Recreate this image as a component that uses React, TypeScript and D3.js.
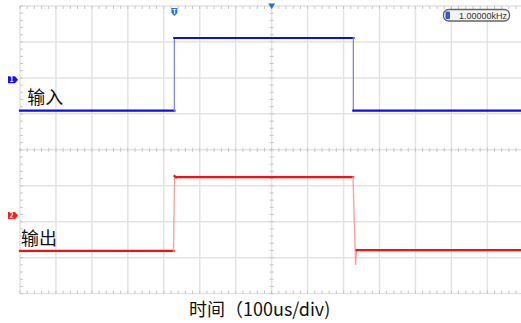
import React from "react";
import * as d3 from "d3";

// Screen geometry of the scope grid (14 x 8 divisions)
const DIVS_X = 14;
const DIVS_Y = 8;
const TIME_PER_DIV = 100; // us
const MINOR_PER_DIV = 5;

// Channel 1 (input) trace: time in us, level in divisions from screen centre
const ch1Time = [-700, -270.6, -270.6, 227.3, 227.3, 700];
const ch1Level = [1.09, 1.09, 3.11, 3.11, 1.09, 1.09];

// Channel 2 (output) trace
const ch2Time = [-700, -272.9, -270.1, -265.9, 226.4, 227.8, 233.4, 236.2, 700];
const ch2Level = [-2.81, -2.81, -0.73, -0.76, -0.76, -1.26, -3.18, -2.79, -2.79];

// Channel ground markers (divisions)
const channelMarkers = [
  { label: "1", level: 1.95, color: "#1010ff" },
  { label: "2", level: -1.83, color: "#ff1a1a" },
];

const traceLabels = [
  { text: "输入", t: -680, level: 1.27 },
  { text: "输出", t: -697, level: -2.65 },
];

const triggerTime = -270.6;
const freqText = "1.00000kHz";
const xAxisTitle = "时间（100us/div)";

export default function App() {
  const W = 521;
  const H = 323;
  const left = 20;
  const top = 6;
  const div = 35.95;
  const plotW = DIVS_X * div;
  const plotH = DIVS_Y * div;

  const x = d3
    .scaleLinear()
    .domain([(-DIVS_X / 2) * TIME_PER_DIV, (DIVS_X / 2) * TIME_PER_DIV])
    .range([left, left + plotW]);
  const y = d3
    .scaleLinear()
    .domain([-DIVS_Y / 2, DIVS_Y / 2])
    .range([top + plotH, top]);

  const line = d3
    .line<[number, number]>()
    .x((d) => x(d[0]))
    .y((d) => y(d[1]));

  const ch1 = ch1Time.map((t, i) => [t, ch1Level[i]] as [number, number]);
  const ch2 = ch2Time.map((t, i) => [t, ch2Level[i]] as [number, number]);

  const gridColor = "#e3e3e3";
  const tickColor = "#c4c4c4";

  const vLines = d3.range(0, DIVS_X + 1).map((i) => (i - DIVS_X / 2) * TIME_PER_DIV);
  const hLines = d3.range(0, DIVS_Y + 1).map((i) => i - DIVS_Y / 2);
  const minorX = d3
    .range(0, DIVS_X * MINOR_PER_DIV + 1)
    .map((i) => (i / MINOR_PER_DIV - DIVS_X / 2) * TIME_PER_DIV);
  const minorY = d3
    .range(0, DIVS_Y * MINOR_PER_DIV + 1)
    .map((i) => i / MINOR_PER_DIV - DIVS_Y / 2);

  const cx = x(0);
  const cy = y(0);
  const font = "'Noto Sans CJK SC', 'Noto Sans', sans-serif";

  // Split a trace into flat runs (drawn solid) and edges (drawn faint)
  const segments = (pts: [number, number][]) =>
    d3.pairs(pts).map(([a, b]) => ({
      a,
      b,
      steep: Math.abs(x(b[0]) - x(a[0])) < 3 && Math.abs(y(b[1]) - y(a[1])) > 4,
    }));

  return (
    <svg
      width={W}
      height={H}
      style={{ position: "absolute", left: 0, top: 0, background: "#fff" }}
    >
      {/* grid */}
      <g>
        {vLines.map((t, i) => (
          <line key={"v" + i} x1={x(t)} x2={x(t)} y1={top} y2={top + plotH} stroke={gridColor} strokeWidth={1.5} />
        ))}
        {hLines.map((v, i) => (
          <line key={"h" + i} x1={left} x2={left + plotW} y1={y(v)} y2={y(v)} stroke={gridColor} strokeWidth={1.5} />
        ))}
      </g>
      {/* minor ticks on centre lines and frame */}
      <g stroke={tickColor} strokeWidth={1}>
        {minorX.map((t, i) => (
          <g key={"mx" + i}>
            <line x1={x(t)} x2={x(t)} y1={cy - 2} y2={cy + 2} />
            <line x1={x(t)} x2={x(t)} y1={top} y2={top + 3} />
            <line x1={x(t)} x2={x(t)} y1={top + plotH - 3} y2={top + plotH} />
          </g>
        ))}
        {minorY.map((v, i) => (
          <g key={"my" + i}>
            <line x1={cx - 2} x2={cx + 2} y1={y(v)} y2={y(v)} />
            <line x1={left} x2={left + 3} y1={y(v)} y2={y(v)} />
          </g>
        ))}
      </g>

      {/* traces */}
      {[
        { pts: ch1, color: "#0a0aff", faint: "#8080ff" },
        { pts: ch2, color: "#ff0d0d", faint: "#ff9a9a" },
      ].map((tr, k) => (
        <g key={"tr" + k} fill="none" strokeLinecap="square">
          {segments(tr.pts).map((s, i) => (
            <path
              key={i}
              d={line([s.a, s.b]) || ""}
              stroke={s.steep ? tr.faint : tr.color}
              strokeWidth={s.steep ? 1.3 : 2.2}
            />
          ))}
        </g>
      ))}

      {/* channel markers */}
      {channelMarkers.map((m) => {
        const my = y(m.level);
        return (
          <g key={m.label}>
            <path
              d={`M8,${my - 3.5} H15 L18,${my} L15,${my + 3.5} H8 Z`}
              fill={m.color}
            />
            <text x={11.5} y={my + 2.6} fontSize={7} fill="#fff" fontFamily={font} fontWeight="bold" textAnchor="middle">
              {m.label}
            </text>
          </g>
        );
      })}

      {/* trigger position marker */}
      <g>
        <path
          d={`M${x(triggerTime) - 3},8 H${x(triggerTime) + 3} V13 L${x(triggerTime)},16 L${x(triggerTime) - 3},13 Z`}
          fill="#2a6fe0"
        />
        <text x={x(triggerTime)} y={13.5} fontSize={6} fill="#fff" fontFamily={font} fontWeight="bold" textAnchor="middle">
          T
        </text>
      </g>
      {/* centre time marker */}
      <path d={`M${cx - 3.5},3.5 H${cx + 3.5} L${cx},9 Z`} fill="#2a6fe0" />

      {/* frequency readout */}
      <g>
        <rect x={443.5} y={9.5} width={66} height={11.5} rx={5} fill="#f4f4f4" stroke="#666" strokeWidth={1.3} />
        <rect x={445.5} y={11.5} width={4.5} height={7.5} rx={1} fill="#2a5bd8" />
        <text x={459} y={18.7} fontSize={9} fill="#333" fontFamily="'Liberation Sans', Arial, sans-serif">
          {freqText}
        </text>
      </g>

      {/* trace labels */}
      {traceLabels.map((l) => (
        <text key={l.text} x={x(l.t)} y={y(l.level)} fontSize={18} fill="#111" fontFamily={font}>
          {l.text}
        </text>
      ))}

      {/* time axis title */}
      <text x={189} y={316} fontSize={18} fill="#111" fontFamily={font}>
        {xAxisTitle}
      </text>
    </svg>
  );
}
